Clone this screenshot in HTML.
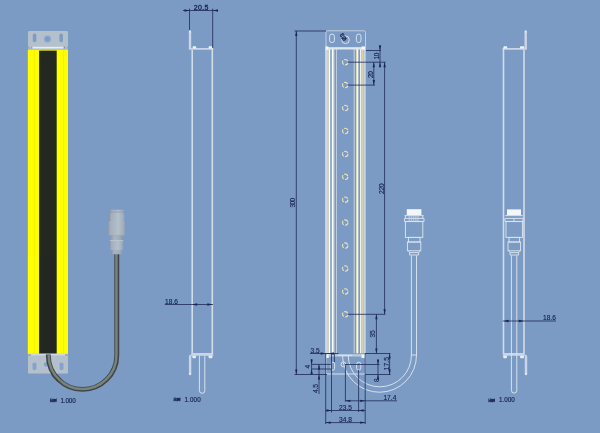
<!DOCTYPE html>
<html><head><meta charset="utf-8"><title>drawing</title>
<style>
html,body{margin:0;padding:0;background:#7c9bc4}
body{width:600px;height:433px;overflow:hidden;position:relative}
svg{display:block;position:absolute;left:0;top:0;will-change:transform;opacity:0.999}
text{font-family:"Liberation Sans","Noto Sans CJK SC",sans-serif;fill:#182050;font-size:6.6px;stroke:#182050;stroke-width:0.14}
.cj{font-size:3.7px;font-weight:bold;stroke-width:0.25}
.sc{font-size:6.3px}
.w{stroke:#d6e0ec;stroke-width:1.15;fill:none}
.wt{stroke:#dbe4ef;stroke-width:0.95;fill:none}
.c{stroke:#ece3b4;fill:none}
.d{stroke:#202a58;stroke-width:0.8;fill:none}
.b{stroke:#d3ddea;stroke-width:1.6;fill:none}
.a{fill:#1b2452;stroke:none}
</style></head><body>
<svg width="600" height="433" viewBox="0 0 600 433">
<defs>
<linearGradient id="cg" x1="0" x2="1" y1="0" y2="0">
<stop offset="0" stop-color="#8e9bab"/><stop offset="0.12" stop-color="#a4b0bd"/><stop offset="0.6" stop-color="#b5c1cb"/><stop offset="0.88" stop-color="#a3b0be"/><stop offset="1" stop-color="#8fa3bd"/>
</linearGradient>
<linearGradient id="cg2" x1="0" x2="1" y1="0" y2="0">
<stop offset="0" stop-color="#8e9cac"/><stop offset="0.3" stop-color="#a9b5c1"/><stop offset="0.7" stop-color="#a3afbc"/><stop offset="1" stop-color="#8c9aab"/>
</linearGradient>
</defs>
<rect x="0" y="0" width="600" height="433" fill="#7c9bc4"/>

<!-- ================= VIEW 1 : shaded ================= -->
<g id="v1">
<path d="M48.3,353 L48.3,355.15 A34.25,34.25 0 0 0 116.8,355.15 L116.8,254" stroke="#414543" stroke-width="4.9" fill="none"/>
<path d="M48.65,353 L48.65,355.15 A33.9,33.9 0 0 0 116.45,355.15 L116.45,254" stroke="#778381" stroke-width="2.5" fill="none"/>
<rect x="28" y="31" width="40" height="18" rx="1.2" fill="#b5c1cd"/>
<rect x="32.8" y="33.4" width="3.6" height="8.8" rx="1.8" fill="#809dc5"/>
<rect x="59.4" y="33.4" width="3.6" height="8.8" rx="1.8" fill="#809dc5"/>
<circle cx="47.5" cy="39" r="3.5" fill="#8aa7cd"/>
<circle cx="47.5" cy="39" r="1.9" fill="#7d9cc5"/>
<rect x="28" y="48.4" width="40" height="1.8" fill="#a9b9cf"/>
<rect x="32.6" y="46.8" width="30.6" height="1.7" fill="#e6edf4"/>
<rect x="28.4" y="46.8" width="1" height="1.6" fill="#8f9db2"/><rect x="31" y="46.8" width="0.9" height="1.6" fill="#8f9db2"/><rect x="64" y="46.6" width="1" height="1.8" fill="#7f8da2"/><rect x="66.8" y="46.8" width="0.9" height="1.6" fill="#8f9db2"/>
<rect x="27.8" y="49.8" width="40.2" height="304.1" fill="#ffff00"/>
<rect x="33.8" y="50" width="0.8" height="304" fill="#f0f000"/>
<rect x="63" y="50" width="0.8" height="304" fill="#f0f000"/>
<rect x="39.1" y="50.6" width="17.6" height="302.9" fill="#232821"/>
<rect x="28" y="354" width="40" height="19.6" rx="1" fill="#b5c1cd"/>
<rect x="28" y="354" width="40" height="2" fill="#9fb0c6"/><rect x="31" y="354" width="34" height="1.6" fill="#d0d9e5"/>
<rect x="32.5" y="362.4" width="4" height="7.8" rx="1.9" fill="#87a4cb"/>
<rect x="59.5" y="362.4" width="4" height="7.8" rx="1.9" fill="#87a4cb"/>
<circle cx="46" cy="364.5" r="2.2" fill="#86a2c8"/>
<path d="M48.3,354.4 L48.3,355.15 A34.25,34.25 0 0 0 60,380.9" stroke="#414543" stroke-width="4.9" fill="none"/>
<path d="M48.65,354.4 L48.65,355.15 A33.9,33.9 0 0 0 60.3,380.6" stroke="#778381" stroke-width="2.5" fill="none"/>
<!-- connector -->
<rect x="110" y="209.7" width="14" height="5.2" rx="0.7" fill="url(#cg)"/>
<rect x="110" y="210.9" width="14" height="0.6" fill="#8f9ba8" opacity="0.7"/>
<rect x="110" y="212.4" width="14" height="0.6" fill="#8f9ba8" opacity="0.7"/>
<rect x="109.5" y="214.4" width="15" height="6.8" fill="url(#cg)"/>
<rect x="107.9" y="215.2" width="2" height="1.6" fill="#8597af"/>
<rect x="107.9" y="218.6" width="2" height="2" fill="#8597af"/>
<rect x="108.2" y="221" width="16.8" height="14.6" rx="0.5" fill="url(#cg)"/>
<rect x="110.8" y="235.4" width="11.8" height="5" fill="url(#cg2)"/>
<rect x="110" y="240.3" width="13.2" height="9.8" rx="0.5" fill="url(#cg)"/>
<rect x="110" y="240.3" width="13.2" height="0.7" fill="#c3cdd6"/>
<path d="M111.4,250 L122.8,250 L121.6,254.3 L112.2,254.3 Z" fill="url(#cg2)"/>
<text class="cj" x="49.8" y="401.9" textLength="6.8" lengthAdjust="spacing">比例</text><text class="sc" x="60.4" y="402.7" textLength="15.4" lengthAdjust="spacing">1.000</text>
</g>

<!-- ================= VIEW 2 : side ================= -->
<g id="v2">
<path fill="#cbd6e6" d="M188.8,31.4 Q188.8,30.4 190,30.4 Q191.2,30.4 191.2,31.4 L191.2,47.9 L213.2,47.9 L213.2,49.8 L188.8,49.8 Z"/><rect x="189.3" y="30.6" width="1.4" height="2" fill="#e8eef5"/>
<path class="b" d="M192.2,50 L192.2,353.6 M212.3,48 L212.3,353.6"/>
<rect x="192.6" y="46.2" width="3.6" height="2.2" rx="0.9" fill="#eef3f8"/>
<rect x="208.6" y="46.2" width="3.8" height="2.2" rx="0.9" fill="#eef3f8"/>
<path fill="#cbd6e6" d="M191.4,353 L213.2,353 L213.2,355.7 L191.3,355.7 L191.3,374.2 Q191.3,375.2 190.1,375.2 Q188.9,375.2 188.9,374.2 L188.9,356.6 Q188.9,354.6 191.4,354.6 Z"/><rect x="189.4" y="372.6" width="1.4" height="2.2" fill="#e8eef5"/>
<rect x="192.4" y="355.4" width="3.6" height="2.8" rx="0.9" fill="#e6edf5"/>
<rect x="208.6" y="355.4" width="3.8" height="2.8" rx="0.9" fill="#e6edf5"/>
<path class="wt" d="M199.4,355.6 L199.4,390.6 A2.7,2.7 0 0 0 204.8,390.6 L204.8,355.6"/>
<!-- dims -->
<path class="d" d="M183,10.5 L218,10.5 M189.5,8.6 L189.5,30 M212.7,8.6 L212.7,48"/>
<path class="a" d="M189.5,10.5 l-5,-1.15 l0,2.3 z M213,10.5 l5,-1.15 l0,2.3 z"/>
<text x="193.8" y="10" style="font-size:7px;stroke-width:0.3" textLength="14.6" lengthAdjust="spacing">20.5</text>
<path class="d" d="M164.8,304.5 L213,304.5"/>
<path class="a" d="M192.2,304.5 l5,-1.15 l0,2.3 z M212.3,304.5 l-5,-1.15 l0,2.3 z"/>
<text x="165" y="303.5" textLength="13" lengthAdjust="spacing">18.6</text>
<text class="cj" x="173.6" y="401.4" textLength="6.8" lengthAdjust="spacing">比例</text><text class="sc" x="184.4" y="402.2"  textLength="16.4" lengthAdjust="spacing">1.000</text>
</g>

<!-- ================= VIEW 3 : front ================= -->
<g id="v3">
<!-- body bands -->
<g>
<rect x="325.1" y="49" width="1.9" height="304.2" fill="#d0d9e6"/>
<rect x="327" y="49" width="1.8" height="304.2" fill="#dbd3a6"/>
<rect x="328.8" y="49" width="1.4" height="304.2" fill="#ffffff"/>
<rect x="331.8" y="49" width="1.4" height="304.2" fill="#ffffff"/>
<rect x="333.2" y="49" width="1.1" height="304.2" fill="#f0e8c4"/>
<rect x="336" y="49" width="0.8" height="304.2" fill="#ccd7e7"/>
<rect x="353.7" y="49" width="1" height="304.2" fill="#c8d3e4"/>
<rect x="356" y="49" width="1" height="304.2" fill="#e2dab2"/>
<rect x="357" y="49" width="1.3" height="304.2" fill="#fcf8ea"/>
<rect x="360" y="49" width="1.4" height="304.2" fill="#eef2f9"/>
<rect x="361.4" y="49" width="2.3" height="304.2" fill="#dad2a4"/>
<rect x="363.7" y="49" width="2" height="304.2" fill="#c9d4e4"/>
</g>
<!-- top bracket -->
<rect x="326" y="30.8" width="39.5" height="17.2" rx="1.4" fill="none" stroke="#c3cfe0" stroke-width="1"/>
<path stroke="#dfe7f0" fill="none" stroke-width="2.3" d="M326,48.3 L365.5,48.3"/><rect x="325.4" y="46.4" width="3" height="3.2" fill="#f4f7fa"/><rect x="361.6" y="46.4" width="3.6" height="3.2" fill="#f4f7fa"/>
<rect class="wt" x="329.6" y="34" width="4.8" height="8.6" rx="2.4"/>
<rect class="wt" x="356.4" y="34" width="4.6" height="8.6" rx="2.3"/>
<circle class="wt" cx="345.5" cy="39.8" r="3.8"/>
<text transform="translate(347,39.6) rotate(-120)" style="font-size:6px;font-weight:bold">Ø3</text>
<!-- LEDs -->
<g class="c" stroke-width="1.1" stroke="#e0d8a6" stroke-dasharray="4.4 1.25">
<circle cx="345.2" cy="62.2" r="2.7"/><circle cx="345.2" cy="85.1" r="2.7"/><circle cx="345.2" cy="108" r="2.7"/>
<circle cx="345.2" cy="131" r="2.7"/><circle cx="345.2" cy="153.9" r="2.7"/><circle cx="345.2" cy="176.8" r="2.7"/>
<circle cx="345.2" cy="199.7" r="2.7"/><circle cx="345.2" cy="222.6" r="2.7"/><circle cx="345.2" cy="245.6" r="2.7"/>
<circle cx="345.2" cy="268.5" r="2.7"/><circle cx="345.2" cy="291.4" r="2.7"/><circle cx="345.2" cy="314.3" r="2.7"/>
</g>
<!-- bottom bracket -->
<path class="w" d="M326,355 L365.4,355 L365.4,374 L326,374 Z"/>
<rect x="326" y="354.4" width="2.8" height="3.6" fill="#f2f5f9"/>
<rect x="361.4" y="354.4" width="3.4" height="3.6" fill="#f2f5f9"/>
<rect x="328.8" y="354.5" width="32.6" height="2.3" fill="#c4d3e8" opacity="0.6"/><path class="wt" d="M338,355.4 L352,355.4"/>
<rect class="wt" x="331" y="362.2" width="3.6" height="8" rx="1.8"/>
<rect class="wt" x="356.6" y="362.2" width="4.2" height="8" rx="2.1"/>
<circle class="wt" cx="343.4" cy="364.4" r="2.4"/>
<!-- cable -->
<path class="wt" d="M342.5,355.5 A37,37 0 0 0 416.5,355 L416.5,255.5 M348.2,355.5 A31.6,31.6 0 0 0 411.4,355 L411.4,255.5 M411.4,355 L416.5,355"/>
<!-- connector -->
<rect x="406.8" y="209.2" width="14.6" height="6" fill="#f4f7fa"/>
<path class="wt" d="M404.6,215.6 L423.6,215.6 M404.4,218.4 L424,218.4 L424,221.4 L404.4,221.4 Z M405.4,215.6 L405.4,218.4 M422.8,215.6 L422.8,218.4"/>
<path stroke="#e6e6d8" stroke-width="1" stroke-dasharray="1.4 0.8" fill="none" d="M408.6,217 L419.6,217 M408.6,220 L419.6,220"/>
<rect class="wt" x="405.4" y="221.6" width="17.4" height="15.8"/>
<rect class="wt" x="408.4" y="237.4" width="11.6" height="4.6"/>
<rect class="wt" x="407.4" y="242" width="13.4" height="8.8"/>
<path class="wt" d="M408.4,250.8 L409.6,252.6 L409.6,255 L418.6,255 L418.6,252.6 L419.8,250.8 M409.6,252.6 L418.6,252.6"/>
<!-- dims -->
<path class="d" d="M294.5,31 L326,31 M296.3,31 L296.3,374.5 M294.5,374.5 L327,374.5"/>
<path class="a" d="M296.3,31 l-1.15,5 l2.3,0 z M296.3,374.5 l-1.15,-5 l2.3,0 z"/>
<text transform="translate(295.0,207.4) rotate(-90)" textLength="9.6" lengthAdjust="spacing">300</text>
<path class="d" d="M366,50.5 L381,50.5 M347.5,62.2 L385.5,62.2 M380,45 L380,67 M373.8,62.2 L373.8,85.1 M347.5,85.1 L375,85.1 M384.6,62.2 L384.6,314.3 M347.5,314.3 L385.4,314.3 M376.4,314.3 L376.4,353.5"/>
<path class="a" d="M380,50.5 l-1.15,-5 l2.3,0 z M380,62.2 l-1.15,5 l2.3,0 z M373.8,62.2 l-1.15,5 l2.3,0 z M373.8,85.1 l-1.15,-5 l2.3,0 z M384.6,62.2 l-1.15,5 l2.3,0 z M384.6,314.3 l-1.15,-5 l2.3,0 z M376.4,314.3 l-1.15,5 l2.3,0 z M376.4,353.5 l-1.15,-5 l2.3,0 z"/>
<text transform="translate(379.2,59.6) rotate(-90)" textLength="7" lengthAdjust="spacing">10</text>
<text transform="translate(372.8,78) rotate(-90)" textLength="7" lengthAdjust="spacing">20</text>
<text transform="translate(383.6,194) rotate(-90)" textLength="10.6" lengthAdjust="spacing">220</text>
<text transform="translate(375.4,337.4) rotate(-90)" textLength="7" lengthAdjust="spacing">35</text>
<!-- bottom dims -->
<path class="d" d="M310,353.5 L338.5,353.5 M365,353.5 L390.5,353.5 M365,374.5 L390.5,374.5 M345,364.5 L379.5,364.5 M389.6,353.5 L389.6,374.5 M378,360 L378,378"/>
<path class="d" d="M325.7,353.5 L325.7,424 M331.5,354 L331.5,412.5 M334.4,354 L334.4,362 M345.4,364.5 L345.4,401.6 M358.6,370 L358.6,412 M365.2,353.5 L365.2,424"/>
<path class="d" d="M311.6,364.4 L331,364.4 M311.6,369 L331,369 M311.6,359 L311.6,374.5 M319,364.4 L319,394"/>
<path class="d" d="M345.4,400.8 L397,400.8 M325.7,410.5 L365.2,410.5 M325.7,422.6 L365.2,422.6"/>
<path class="a" d="M389.6,353.5 l-1.15,5 l2.3,0 z M389.6,374.5 l-1.15,-5 l2.3,0 z M378,364.5 l-1.15,-5 l2.3,0 z M378,374.5 l-1.15,5 l2.3,0 z
M325.7,353.5 l-5,-1.15 l0,2.3 z M328.8,353.5 l5,-1.15 l0,2.3 z
M311.6,364.4 l-1.15,-5 l2.3,0 z M311.6,369 l-1.15,5 l2.3,0 z M319,364.4 l-1.15,5 l2.3,0 z M319,374.5 l-1.15,5 l2.3,0 z
M345.4,400.8 l5,-1.15 l0,2.3 z M365.2,400.8 l-5,-1.15 l0,2.3 z
M331.5,410.5 l-5,-1.15 l0,2.3 z M358.6,410.5 l5,-1.15 l0,2.3 z
M325.7,422.6 l5,-1.15 l0,2.3 z M365.2,422.6 l-5,-1.15 l0,2.3 z"/>
<text x="310.6" y="352.7" textLength="9" lengthAdjust="spacing">3.5</text>
<text transform="translate(309.8,368.6) rotate(-90)">4</text>
<text transform="translate(318.4,393) rotate(-90)" textLength="9" lengthAdjust="spacing">4.5</text>
<text transform="translate(378.8,382) rotate(-90)">8</text>
<text transform="translate(388.6,370.2) rotate(-90)" textLength="13" lengthAdjust="spacing">17.5</text>
<text x="383.4" y="399.9" textLength="13" lengthAdjust="spacing">17.4</text>
<text x="339" y="409.7" textLength="13" lengthAdjust="spacing">23.5</text>
<text x="339" y="421.7" textLength="13" lengthAdjust="spacing">34.8</text>
</g>

<!-- ================= VIEW 4 : side ================= -->
<g id="v4">
<path fill="#cbd6e6" d="M526.9,31.4 Q526.9,30.4 525.7,30.4 Q524.5,30.4 524.5,31.4 L524.5,47.9 L502.8,47.9 L502.8,49.8 L526.9,49.8 Z"/><rect x="525" y="30.6" width="1.4" height="2" fill="#e8eef5"/>
<path class="b" d="M503.5,48 L503.5,353.4 M524,50 L524,353.4"/>
<rect x="503.4" y="46.2" width="3.8" height="2.2" rx="0.9" fill="#eef3f8"/>
<rect x="520" y="46.2" width="4.2" height="2.2" rx="0.9" fill="#eef3f8"/>
<path fill="#cbd6e6" d="M524.6,353 L502.8,353 L502.8,355.7 L524.8,355.7 L524.8,374.2 Q524.8,375.2 526,375.2 Q527.2,375.2 527.2,374.2 L527.2,356.6 Q527.2,354.6 524.6,354.6 Z"/><rect x="525.3" y="372.6" width="1.4" height="2.2" fill="#e8eef5"/>
<rect x="503.2" y="355.4" width="3.8" height="2.8" rx="0.9" fill="#e6edf5"/>
<rect x="520" y="355.4" width="4" height="2.8" rx="0.9" fill="#e6edf5"/>
<!-- connector -->
<rect x="507" y="209.4" width="14" height="5.8" fill="#f4f7fa"/>
<path class="wt" d="M505.2,215.6 L522.8,215.6 M505,218.4 L523,218.4 L523,221.4 L505,221.4 Z M514,218.4 L514,221.4"/>
<rect class="wt" x="506" y="221.6" width="16.4" height="15.8"/>
<rect class="wt" x="509" y="237.4" width="10.6" height="4.6"/>
<rect class="wt" x="508" y="242" width="12.6" height="8.8"/>
<path class="wt" d="M509,250.8 L510,252.6 L510,255 L518.6,255 L518.6,252.6 L519.6,250.8 M510,252.6 L518.6,252.6"/>
<path class="wt" d="M511.4,255.4 L511.4,390.4 A2.7,2.7 0 0 0 516.8,390.4 L516.8,255.4"/>
<path class="d" d="M502.8,321 L556,321"/>
<path class="a" d="M503.6,321 l5,-1.15 l0,2.3 z M523.8,321 l-5,-1.15 l0,2.3 z"/>
<text x="543" y="320.1" textLength="13" lengthAdjust="spacing">18.6</text>
<text class="cj" x="488.2" y="401.5" textLength="6.8" lengthAdjust="spacing">比例</text><text class="sc" x="499" y="402.2" textLength="15.8" lengthAdjust="spacing">1.000</text>
</g>
</svg>
</body></html>
